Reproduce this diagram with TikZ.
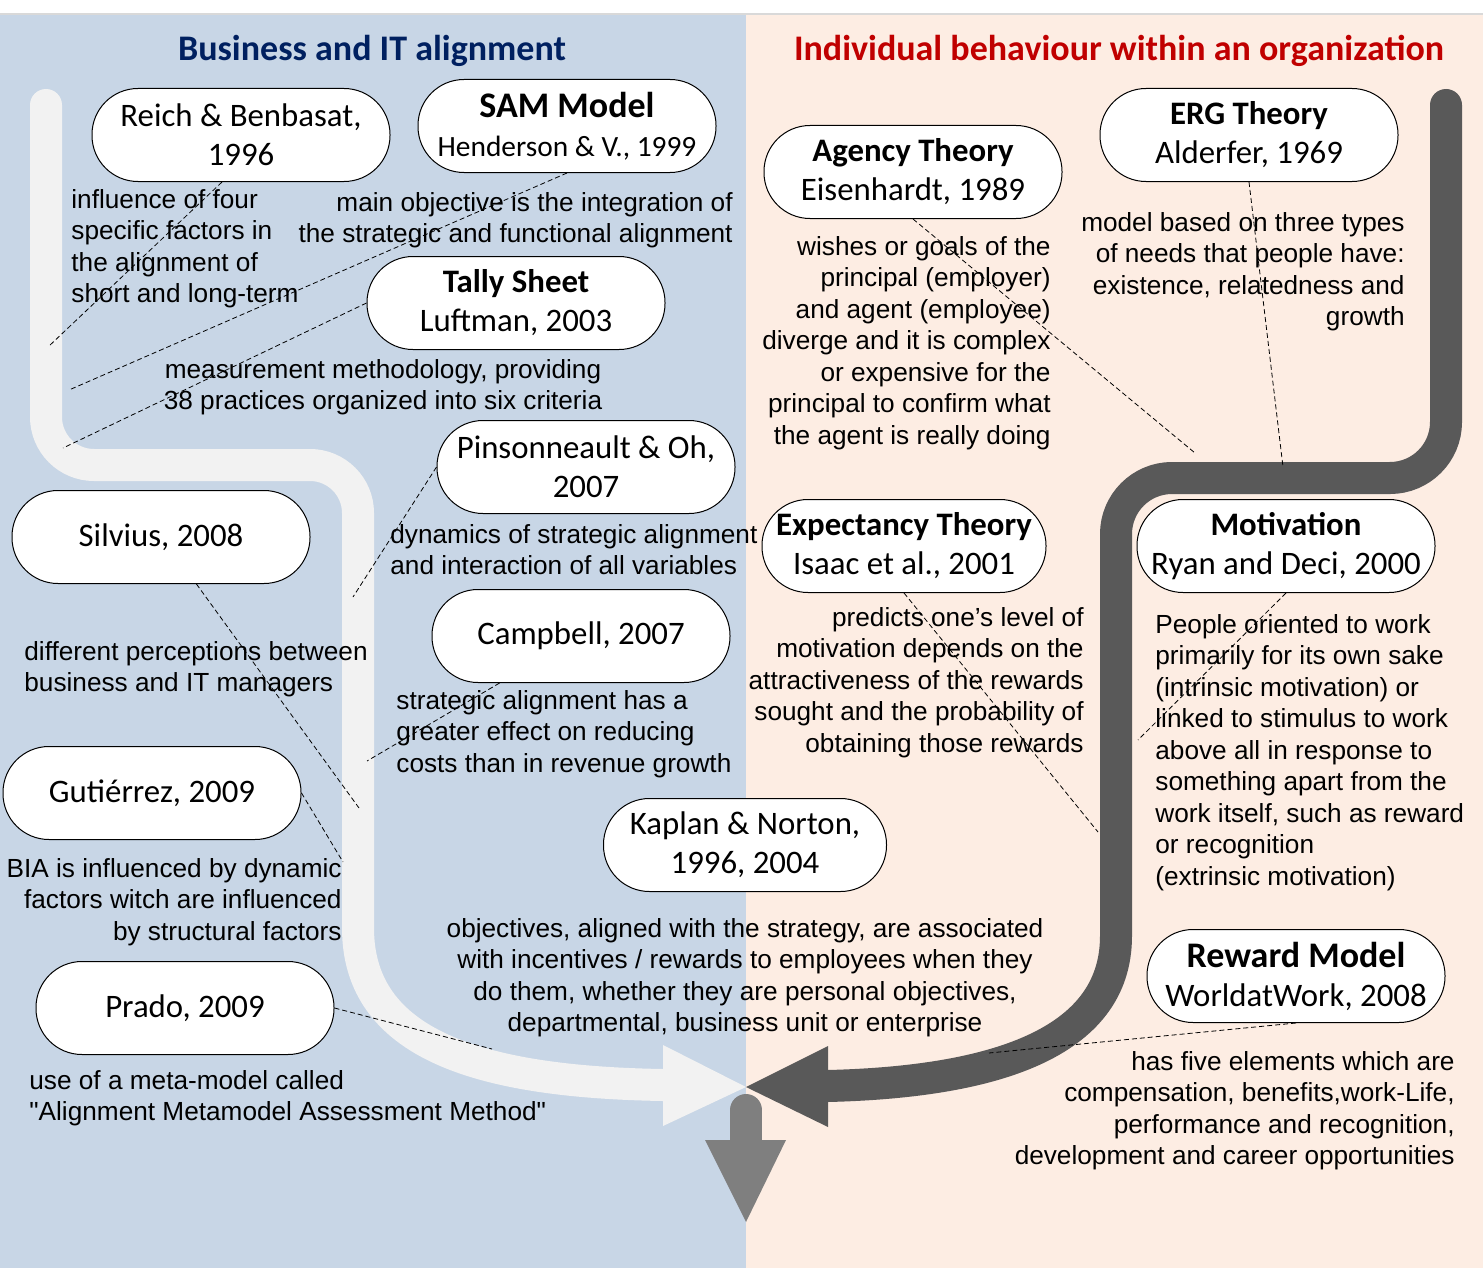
\documentclass[tikz,border=0pt]{standalone}
\usepackage{fontspec}
\setmainfont{Liberation Sans}[Ligatures=TeXOff]
\newfontfamily\boxfont{Carlito}
\definecolor{bizblue}{HTML}{C8D6E6}
\definecolor{orgpeach}{HTML}{FDEDE3}
\definecolor{flowlight}{HTML}{F2F2F2}
\definecolor{flowdark}{HTML}{595959}
\definecolor{flowgrey}{HTML}{7F7F7F}
\definecolor{headblue}{HTML}{002060}
\definecolor{headred}{HTML}{C00000}
\newcommand{\bigtitle}[1]{{\fontsize{18}{21}\selectfont\textbf{#1}}}
\newcommand{\smallsub}[1]{{\fontsize{14.7}{17}\selectfont #1}}

\begin{document}
\begin{tikzpicture}[x=0.5pt,y=-0.5pt,
  pub/.style={draw,fill=white,line width=0.5pt,rounded corners=23pt,minimum width=149pt,minimum height=46.5pt,align=center,inner sep=1pt,font=\boxfont\fontsize{16.4}{19.5}\selectfont},
  note/.style={inner sep=0pt,font=\fontsize{13.1}{15.75}\selectfont},
  heading/.style={font=\boxfont\bfseries\fontsize{18}{21}\selectfont},
  flow/.style={line width=16pt,line cap=round},
  link/.style={draw,line width=0.4pt,dash pattern=on 2.5pt off 1.5pt}]

\useasboundingbox (0,0) rectangle (1483,1268);
\fill[white] (0,0) rectangle (1483,1268);
\fill[bizblue] (0,14) rectangle (746,1268);
\fill[orgpeach] (746,14) rectangle (1483,1268);
\draw[black!15,line width=0.8pt] (0,14) -- (1483,14);

\draw[flow,flowlight,rounded corners=24pt] (46,105) -- (46,465) -- (358,465) -- (358,880) .. controls (358,1045) and (480,1082) .. (663,1085);
\fill[flowlight] (663,1045) -- (746,1087) -- (663,1126) -- cycle;
\draw[flow,flowgrey] (746,1110) -- (746,1145);
\fill[flowgrey] (705,1140) -- (786,1140) -- (746,1222) -- cycle;
\draw[flow,flowdark,rounded corners=28pt] (1446,105) -- (1446,478) -- (1116,478) -- (1116,880) .. controls (1116,1045) and (990,1082) .. (828,1086);
\fill[flowdark] (828,1046) -- (746,1087) -- (828,1127) -- cycle;

\node[heading,text=headblue] (bizhead) at (372,51) {Business and IT alignment};
\node[heading,text=headred] (orghead) at (1119,51) {Individual behaviour within an organization};

\node[pub] (reich) at (241,135) {Reich \& Benbasat,\\1996};
\node[pub] (sam) at (567,126) {\bigtitle{SAM Model}\\\smallsub{Henderson \& V., 1999}};
\node[pub] (tally) at (516,303) {\textbf{Tally Sheet}\\Luftman, 2003};
\node[pub] (pins) at (586,467) {Pinsonneault \& Oh,\\2007};
\node[pub] (silvius) at (161,537) {Silvius, 2008};
\node[pub] (campbell) at (581,636) {Campbell, 2007};
\node[pub] (gutierrez) at (152,793) {Gutiérrez, 2009};
\node[pub,minimum width=141.5pt] (kaplan) at (745,845) {Kaplan \& Norton,\\1996, 2004};
\node[pub] (prado) at (185,1008) {Prado, 2009};
\node[pub] (agency) at (913,172) {\textbf{Agency Theory}\\Eisenhardt, 1989};
\node[pub] (erg) at (1249,135) {\textbf{ERG Theory}\\Alderfer, 1969};
\node[pub,minimum width=142pt] (expect) at (904,546) {\textbf{Expectancy Theory}\\Isaac et al., 2001};
\node[pub] (motiv) at (1286,546) {\textbf{Motivation}\\Ryan and Deci, 2000};
\node[pub] (reward) at (1296,976) {\bigtitle{Reward Model}\\WorldatWork, 2008};

\node[note,anchor=north west,align=left] (reichnote) at (71,189) {influence of four\\specific factors in\\the alignment of\\short and long-term};
\node[note,anchor=north east,align=right] (samnote) at (733,192) {main objective is the integration of\\the strategic and functional alignment};
\node[note,anchor=north,align=center] (tallynote) at (383,359) {measurement methodology, providing\\38 practices organized into six criteria};
\node[note,anchor=north west,align=left] (pinsnote) at (390,524) {dynamics of strategic alignment\\and interaction of all variables};
\node[note,anchor=north west,align=left] (silviusnote) at (24,641) {different perceptions between\\business and IT managers};
\node[note,anchor=north west,align=left] (campbellnote) at (396,690) {strategic alignment has a\\greater effect on reducing\\costs than in revenue growth};
\node[note,anchor=north east,align=right] (gutierreznote) at (342,858) {BIA is influenced by dynamic\\factors witch are influenced\\by structural factors};
\node[note,anchor=north west,align=left] (pradonote) at (29,1070) {use of a meta-model called\\"Alignment Metamodel Assessment Method"};
\node[note,anchor=north,align=center] (kaplannote) at (745,918) {objectives, aligned with the strategy, are associated\\with incentives / rewards to employees when they\\do them, whether they are personal objectives,\\departmental, business unit or enterprise};
\node[note,anchor=north east,align=right] (agencynote) at (1051,236) {wishes or goals of the\\principal (employer)\\and agent (employee)\\diverge and it is complex\\or expensive for the\\principal to confirm what\\the agent is really doing};
\node[note,anchor=north east,align=right] (ergnote) at (1405,212) {model based on three types\\of needs that people have:\\existence, relatedness and\\growth};
\node[note,anchor=north east,align=right] (expectnote) at (1084,607) {predicts one’s level of\\motivation depends on the\\attractiveness of the rewards\\sought and the probability of\\obtaining those rewards};
\node[note,anchor=north west,align=left] (motivnote) at (1155,614) {People oriented to work\\primarily for its own sake\\(intrinsic motivation) or\\linked to stimulus to work\\above all in response to\\something apart from the\\work itself, such as reward\\or recognition\\(extrinsic motivation)};
\node[note,anchor=north east,align=right] (rewardnote) at (1455,1051) {has five elements which are\\compensation, benefits,work-Life,\\performance and recognition,\\development and career opportunities};

\coordinate (reichend) at (48,347);
\coordinate (samend) at (69,390);
\coordinate (tallyend) at (63,448);
\coordinate (pinsend) at (353,597);
\coordinate (silviusend) at (359,808);
\coordinate (campbellend) at (367,761);
\coordinate (gutierrezend) at (343,862);
\coordinate (pradoend) at (492,1049);
\coordinate (agencyend) at (1195,453);
\coordinate (ergend) at (1283,467);
\coordinate (expectend) at (1098,832);
\coordinate (motivend) at (1138,740);
\coordinate (rewardend) at (989,1053);

\path (reich.248) edge[link] (reichend)
      (sam.south) edge[link] (samend)
      (tally.west) edge[link] (tallyend)
      (pins.west) edge[link] (pinsend)
      (silvius.307) edge[link] (silviusend)
      (campbell.210) edge[link] (campbellend)
      (gutierrez.east) edge[link] (gutierrezend)
      (prado.east) edge[link] (pradoend)
      (agency.south) edge[link] (agencyend)
      (erg.south) edge[link] (ergend)
      (expect.south) edge[link] (expectend)
      (motiv.south) edge[link] (motivend)
      (reward.south) edge[link] (rewardend);
\end{tikzpicture}
\end{document}
